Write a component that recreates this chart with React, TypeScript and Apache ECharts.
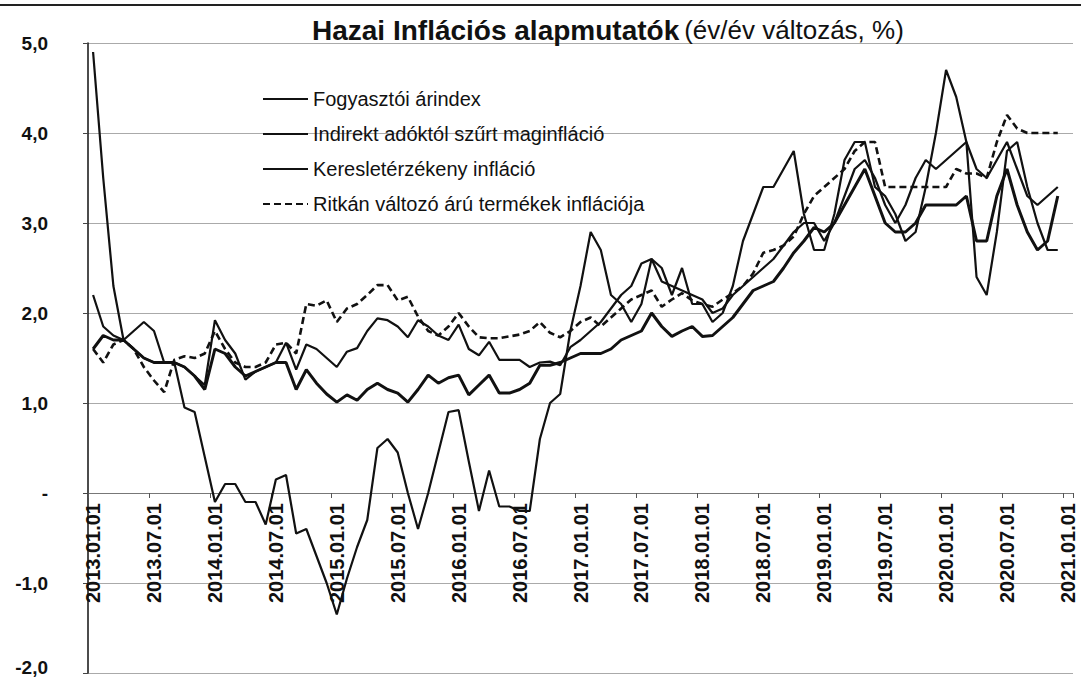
import React, { useEffect, useRef } from "react";
import * as echarts from "echarts";

const FONT = "'Liberation Sans', Arial, sans-serif";

// Monthly categories 2013.01 – 2021.01
const years = [2013, 2014, 2015, 2016, 2017, 2018, 2019, 2020, 2021];
const categories: string[] = [];
years.forEach((y) => {
  for (let m = 1; m <= 12; m++) {
    if (y === 2021 && m > 1) break;
    categories.push(`${y}.${String(m).padStart(2, "0")}.01`);
  }
});

// Fogyasztói árindex
const cpi2013 = [4.9, 3.5, 2.3, 1.7, 1.8, 1.9, 1.8, 1.45, 1.45, 0.95, 0.9, 0.4];
const cpi2014 = [-0.1, 0.1, 0.1, -0.1, -0.1, -0.35, 0.15, 0.2, -0.45, -0.4, -0.7, -1.0];
const cpi2015 = [-1.35, -0.95, -0.6, -0.3, 0.5, 0.6, 0.45, 0.0, -0.4, 0.0, 0.45, 0.9];
const cpi2016 = [0.92, 0.35, -0.2, 0.25, -0.15, -0.15, -0.2, -0.2, 0.6, 1.0, 1.1, 1.8];
const cpi2017 = [2.3, 2.9, 2.7, 2.2, 2.1, 1.9, 2.1, 2.6, 2.5, 2.2, 2.5, 2.1];
const cpi2018 = [2.1, 1.9, 2.0, 2.3, 2.8, 3.1, 3.4, 3.4, 3.6, 3.8, 3.1, 2.7];
const cpi2019 = [2.7, 3.1, 3.7, 3.9, 3.9, 3.4, 3.3, 3.1, 2.8, 2.9, 3.4, 4.0];
const cpi2020 = [4.7, 4.4, 3.9, 2.4, 2.2, 2.9, 3.8, 3.9, 3.4, 3.0, 2.7, 2.7];

// Indirekt adóktól szűrt maginfláció
const core2013 = [2.2, 1.85, 1.75, 1.7, 1.6, 1.5, 1.45, 1.45, 1.45, 1.4, 1.3, 1.2];
const core2014 = [1.92, 1.7, 1.55, 1.26, 1.35, 1.4, 1.45, 1.67, 1.37, 1.65, 1.6, 1.5];
const core2015 = [1.4, 1.57, 1.61, 1.8, 1.94, 1.92, 1.85, 1.73, 1.92, 1.85, 1.75, 1.7];
const core2016 = [1.87, 1.6, 1.53, 1.68, 1.48, 1.48, 1.48, 1.4, 1.45, 1.46, 1.42, 1.62];
const core2017 = [1.7, 1.8, 1.9, 2.05, 2.2, 2.3, 2.55, 2.6, 2.35, 2.3, 2.25, 2.2];
const core2018 = [2.15, 2.0, 2.05, 2.2, 2.3, 2.4, 2.5, 2.6, 2.75, 2.9, 3.0, 3.0];
const core2019 = [2.8, 3.0, 3.3, 3.6, 3.7, 3.5, 3.2, 3.0, 3.2, 3.5, 3.7, 3.6];
const core2020 = [3.7, 3.8, 3.9, 3.6, 3.5, 3.7, 3.9, 3.6, 3.3, 3.2, 3.3, 3.4];

// Keresletérzékeny infláció
const dem2013 = [1.6, 1.75, 1.7, 1.7, 1.6, 1.5, 1.45, 1.45, 1.45, 1.4, 1.3, 1.15];
const dem2014 = [1.6, 1.55, 1.4, 1.3, 1.35, 1.4, 1.45, 1.45, 1.15, 1.37, 1.22, 1.1];
const dem2015 = [1.01, 1.09, 1.03, 1.15, 1.22, 1.15, 1.11, 1.01, 1.15, 1.31, 1.22, 1.28];
const dem2016 = [1.31, 1.09, 1.2, 1.31, 1.11, 1.11, 1.15, 1.22, 1.42, 1.42, 1.45, 1.5];
const dem2017 = [1.55, 1.55, 1.55, 1.6, 1.7, 1.75, 1.8, 2.0, 1.85, 1.74, 1.8, 1.85];
const dem2018 = [1.74, 1.75, 1.85, 1.95, 2.1, 2.25, 2.3, 2.35, 2.5, 2.67, 2.8, 2.95];
const dem2019 = [2.9, 3.0, 3.2, 3.4, 3.6, 3.3, 3.0, 2.9, 2.9, 3.0, 3.2, 3.2];
const dem2020 = [3.2, 3.2, 3.3, 2.8, 2.8, 3.3, 3.6, 3.2, 2.9, 2.7, 2.8, 3.3];

// Ritkán változó árú termékek inflációja
const sticky2013 = [1.6, 1.45, 1.65, 1.7, 1.6, 1.4, 1.25, 1.12, 1.48, 1.52, 1.5, 1.55];
const sticky2014 = [1.8, 1.6, 1.45, 1.4, 1.4, 1.45, 1.65, 1.67, 1.55, 2.1, 2.08, 2.14];
const sticky2015 = [1.9, 2.05, 2.1, 2.2, 2.31, 2.31, 2.14, 2.18, 1.96, 1.8, 1.75, 1.85];
const sticky2016 = [2.0, 1.85, 1.73, 1.72, 1.72, 1.74, 1.76, 1.8, 1.9, 1.78, 1.73, 1.8];
const sticky2017 = [1.9, 1.95, 1.85, 1.95, 2.05, 2.15, 2.2, 2.25, 2.07, 2.15, 2.22, 2.14];
const sticky2018 = [2.1, 2.07, 2.15, 2.22, 2.3, 2.44, 2.67, 2.7, 2.75, 2.85, 3.1, 3.3];
const sticky2019 = [3.4, 3.5, 3.6, 3.8, 3.9, 3.9, 3.4, 3.4, 3.4, 3.4, 3.4, 3.4];
const sticky2020 = [3.4, 3.6, 3.55, 3.55, 3.5, 3.9, 4.2, 4.05, 4.0, 4.0, 4.0, 4.0];

const cpi = [...cpi2013, ...cpi2014, ...cpi2015, ...cpi2016, ...cpi2017, ...cpi2018, ...cpi2019, ...cpi2020, null];
const core = [...core2013, ...core2014, ...core2015, ...core2016, ...core2017, ...core2018, ...core2019, ...core2020, null];
const demand = [...dem2013, ...dem2014, ...dem2015, ...dem2016, ...dem2017, ...dem2018, ...dem2019, ...dem2020, null];
const sticky = [...sticky2013, ...sticky2014, ...sticky2015, ...sticky2016, ...sticky2017, ...sticky2018, ...sticky2019, ...sticky2020, null];

const seriesNames = [
  "Fogyasztói árindex",
  "Indirekt adóktól szűrt maginfláció",
  "Keresletérzékeny infláció",
  "Ritkán változó árú termékek inflációja",
];

const Y_MIN = -2;
const Y_MAX = 5;

export default function App() {
  const ref = useRef<HTMLDivElement>(null);
  useEffect(() => {
    if (!ref.current) return;
    const chart = echarts.init(ref.current, undefined, { renderer: "svg" });
    const lineColor = "#111";
    const gridTop = 43;
    const gridBottom = 6;
    const plotH = 679 - gridTop - gridBottom;
    // distance from the plot's bottom edge to the value 0, in pixels
    const zeroOffset = (plotH * (0 - Y_MIN)) / (Y_MAX - Y_MIN);
    chart.setOption({
      animation: false,
      backgroundColor: "#ffffff",
      title: {
        text: "{b|Hazai Inflációs alapmutatók} {n|(év/év változás, %)}",
        left: 312,
        top: 16,
        padding: 0,
        textStyle: {
          rich: {
            b: { fontSize: 28, fontWeight: "bold", fontFamily: FONT, color: "#111" },
            n: { fontSize: 26, fontWeight: "normal", fontFamily: FONT, color: "#111" },
          },
        },
      },
      graphic: [
        {
          type: "line",
          shape: { x1: 0, y1: 5, x2: 1081, y2: 5 },
          style: { stroke: "#222", lineWidth: 2 },
        },
      ],
      legend: {
        orient: "vertical",
        left: 262,
        top: 89,
        padding: 0,
        itemWidth: 45,
        itemHeight: 10,
        itemGap: 15,
        itemStyle: { color: "transparent", borderColor: "transparent", borderWidth: 0, opacity: 0 },
        textStyle: { fontSize: 20, fontFamily: FONT, color: "#111", lineHeight: 20 },
        data: seriesNames,
      },
      grid: { left: 88, right: 8, top: gridTop, bottom: gridBottom, containLabel: false, outerBoundsMode: "none" },
      xAxis: {
        type: "category",
        data: categories,
        boundaryGap: true,
        position: "bottom",
        offset: -zeroOffset,
        axisLine: { onZero: false, lineStyle: { color: "#777", width: 1 } },
        axisTick: { show: true, interval: 5, alignWithLabel: false, length: 5, lineStyle: { color: "#555" } },
        axisLabel: {
          interval: 5,
          rotate: 90,
          fontSize: 20,
          fontWeight: "bold",
          fontFamily: FONT,
          color: "#111",
          margin: 10,
        },
        splitLine: { show: false },
      },
      yAxis: {
        type: "value",
        min: Y_MIN,
        max: Y_MAX,
        interval: 1,
        axisLine: { show: true, lineStyle: { color: "#111", width: 1.5 } },
        axisTick: { show: true, length: 5, lineStyle: { color: "#444" } },
        axisLabel: {
          fontSize: 19,
          fontWeight: "bold",
          fontFamily: FONT,
          color: "#111",
          margin: 40,
          formatter: (v: number) =>
            v === 0 ? "-" : v === Y_MIN ? `{lo|${v.toFixed(1).replace(".", ",")}}` : v.toFixed(1).replace(".", ","),
          rich: {
            lo: { fontSize: 19, fontWeight: "bold", fontFamily: FONT, color: "#111", padding: [0, 0, 12, 0] },
          },
        },
        splitLine: { show: true, lineStyle: { color: "#aaa", width: 1 } },
      },
      series: [
        {
          name: seriesNames[0],
          type: "line",
          data: cpi,
          symbol: "none",
          lineStyle: { color: lineColor, width: 2.2 },
          itemStyle: { color: lineColor },
        },
        {
          name: seriesNames[1],
          type: "line",
          data: core,
          symbol: "none",
          lineStyle: { color: lineColor, width: 2.2 },
          itemStyle: { color: lineColor },
        },
        {
          name: seriesNames[2],
          type: "line",
          data: demand,
          symbol: "none",
          lineStyle: { color: lineColor, width: 3 },
          itemStyle: { color: lineColor },
        },
        {
          name: seriesNames[3],
          type: "line",
          data: sticky,
          symbol: "none",
          lineStyle: { color: lineColor, width: 2.6, type: [7, 4] },
          itemStyle: { color: lineColor },
        },
      ],
    });
    return () => chart.dispose();
  }, []);
  return (
    <div
      ref={ref}
      style={{ position: "fixed", left: 0, top: 0, width: 1081, height: 679, background: "#fff" }}
    />
  );
}
